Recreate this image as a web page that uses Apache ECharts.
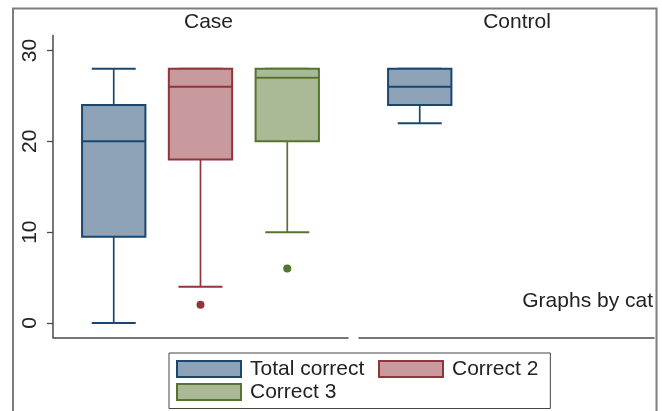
<!DOCTYPE html>
<html><head><meta charset="utf-8">
<script src="https://cdn.jsdelivr.net/npm/echarts@6/dist/echarts.min.js"></script>
<style>html,body{margin:0;padding:0;background:#fff}#c{width:662px;height:411px}</style>
</head><body><div id="c"></div>
<script>
// ---- data ----
const panels = ['Case', 'Control'];
const seriesNames = ['Total correct', 'Correct 2', 'Correct 3'];
const boxPositions = [1, 2, 3];
// [lower whisker, Q1, median, Q3, upper whisker] for each panel
const totalCorrect = [[0, 9.5, 20, 24, 28], [22, 24, 26, 28, 28]];
const correct2 = [[4, 18, 26, 28, 28], null];
const correct3 = [[10, 20, 27, 28, 28], null];
const outliersTotal = [[], []];
const outliers2 = [[2], []];
const outliers3 = [[6], []];
const yTicks = [0, 10, 20, 30];
const footnote = 'Graphs by cat';

// ---- styling ----
const FONT = '"Liberation Sans", Arial, Helvetica, sans-serif';
const TXT = '#222222';
const AXIS = '#4a4a4a';
const lineColors = ['#1a476f', '#90353b', '#55752f'];
const fillColors = ['#8ea3b8', '#c8999d', '#aaba96'];
const boxData = [totalCorrect, correct2, correct3];
const outData = [outliersTotal, outliers2, outliers3];

function makeRender(k) {
  return function (params, api) {
    const x = api.value(0);
    const p = [1, 2, 3, 4, 5].map(i => api.coord([x, api.value(i)]));
    const cx = p[0][0];
    const bw = api.size([0.73, 0])[0];
    const cw = api.size([0.507, 0])[0];
    const stroke = lineColors[k];
    const ls = { stroke: stroke, lineWidth: 1.7 };
    return {
      type: 'group',
      children: [
        { type: 'line', shape: { x1: cx, y1: p[0][1], x2: cx, y2: p[1][1] }, style: ls },
        { type: 'line', shape: { x1: cx, y1: p[3][1], x2: cx, y2: p[4][1] }, style: ls },
        { type: 'line', shape: { x1: cx - cw / 2, y1: p[0][1], x2: cx + cw / 2, y2: p[0][1] }, style: { stroke: stroke, lineWidth: 2 } },
        { type: 'line', shape: { x1: cx - cw / 2, y1: p[4][1], x2: cx + cw / 2, y2: p[4][1] }, style: { stroke: stroke, lineWidth: 2 } },
        { type: 'rect', shape: { x: cx - bw / 2, y: p[3][1], width: bw, height: p[1][1] - p[3][1] },
          style: { fill: fillColors[k], stroke: stroke, lineWidth: 2 } },
        { type: 'line', shape: { x1: cx - bw / 2, y1: p[2][1], x2: cx + bw / 2, y2: p[2][1] }, style: { stroke: stroke, lineWidth: 2 } }
      ]
    };
  };
}

const gridLefts = [53, 359];
const grids = gridLefts.map(l => ({ left: l, top: 35.5, width: 295, height: 302 }));
const xAxes = panels.map((name, i) => ({
  type: 'value', gridIndex: i, min: 0.3, max: 3.7,
  axisLine: { show: true, onZero: false, lineStyle: { color: AXIS, width: 1.5 } },
  axisTick: { show: false }, axisLabel: { show: false }, splitLine: { show: false }
}));
const yAxes = panels.map((name, i) => ({
  type: 'value', gridIndex: i, min: -1.6, max: 31.65, show: i === 0,
  axisLine: { show: true, onZero: false, lineStyle: { color: AXIS, width: 1.5 } },
  axisTick: { show: true, length: 6, customValues: yTicks, lineStyle: { color: AXIS, width: 1.3 } },
  axisLabel: { show: true, customValues: yTicks, rotate: 90, margin: 12, fontSize: 21, color: TXT, fontFamily: FONT },
  splitLine: { show: false }
}));

const series = [];
panels.forEach((pname, p) => {
  boxData.forEach((arr, k) => {
    if (arr[p]) {
      series.push({
        type: 'custom', name: seriesNames[k], xAxisIndex: p, yAxisIndex: p,
        itemStyle: { color: fillColors[k], borderColor: lineColors[k], borderWidth: 2 },
        encode: { x: 0, y: [1, 2, 3, 4, 5] },
        data: [[boxPositions[k]].concat(arr[p])],
        renderItem: makeRender(k)
      });
    }
  });
  outData.forEach((arr, k) => {
    if (arr[p] && arr[p].length) {
      series.push({
        type: 'scatter', name: seriesNames[k], xAxisIndex: p, yAxisIndex: p,
        symbol: 'circle', symbolSize: 8,
        itemStyle: { color: lineColors[k], opacity: 1 },
        data: arr[p].map(v => [boxPositions[k], v])
      });
    }
  });
});

const titleX = [208.5, 517];
const graphics = [
  { type: 'rect', shape: { x: 13, y: 8.5, width: 643.5, height: 520 }, style: { fill: 'none', stroke: '#7d7d7d', lineWidth: 2 }, z: -10 }
].concat(panels.map((t, i) => ({
  type: 'text', x: titleX[i], y: 22.6,
  style: { text: t, fontSize: 21, fontFamily: FONT, fill: TXT, align: 'center', verticalAlign: 'middle' }
}))).concat([{
  type: 'text', x: 653, y: 301.5,
  style: { text: footnote, fontSize: 21, fontFamily: FONT, fill: TXT, align: 'right', verticalAlign: 'middle' }
}]);

const option = {
  animation: false,
  backgroundColor: '#ffffff',
  grid: grids,
  xAxis: xAxes,
  yAxis: yAxes,
  legend: {
    left: 169, top: 353, width: 430,
    padding: [5.5, 12, 6, 7],
    backgroundColor: '#ffffff', borderColor: '#444444', borderWidth: 1,
    orient: 'horizontal', itemWidth: 64, itemHeight: 16, itemGap: 2,
    icon: 'rect', selectedMode: false,
    textStyle: { fontSize: 21, color: TXT, fontFamily: FONT, lineHeight: 17, padding: [0, 0, 0, 4] },
    data: seriesNames.map((n, k) => {
      const d = { name: n, icon: 'rect', itemStyle: { color: fillColors[k], borderColor: lineColors[k], borderWidth: 2 } };
      if (k === 0) d.textStyle = { width: 126 };
      return d;
    })
  },
  graphic: graphics,
  series: series
};

const chart = echarts.init(document.getElementById('c'), null, { renderer: 'canvas' });
chart.setOption(option);
</script>
</body></html>
